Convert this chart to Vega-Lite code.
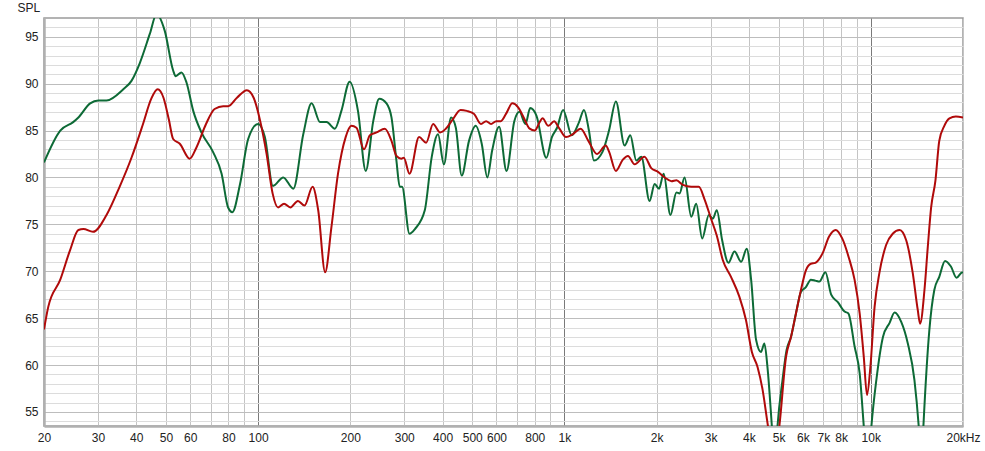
{
  "$schema": "https://vega.github.io/schema/vega-lite/v6.json",
  "width": 919,
  "height": 408,
  "autosize": "none",
  "padding": {"left": 44, "top": 18, "right": 22, "bottom": 25},
  "background": "white",
  "config": {
    "view": {"stroke": "#9a9a9a", "strokeWidth": 1.5},
    "font": "Liberation Sans"
  },
  "datasets": {
    "g": [
      [20,81.6],[22.6,85.0],[24.9,85.9],[25.9,86.4],[28.3,87.9],[30.1,88.2],[32.0,88.2],[36.3,89.4],[38.6,90.3],[41.1,92.2],[44.3,95.3],[46.6,97.4],[49.6,95.6],[52.8,91.4],[53.8,90.8],[56.2,91.2],[58.4,90.1],[61.4,87.1],[65.3,84.8],[71.3,82.7],[76.0,80.4],[79.8,76.8],[82.4,76.3],[87.3,79.3],[92.8,84.1],[100,85.7],[105.2,84.3],[111.8,79.1],[120.8,80.0],[130.3,78.8],[140.4,84.6],[149.5,87.9],[159.3,85.9],[167.3,85.9],[178,85.2],[187,87.1],[199,90.2],[211.8,87.1],[224.6,80.7],[237.6,86.0],[248.6,88.4],[262.5,87.9],[272.5,86.4],[282.8,81.8],[290,79.0],[295,79.0],[312,74.0],[325,74.5],[350,76.5],[368.8,82.2],[386.6,84.6],[404,81.4],[426.6,86.4],[442,85.3],[462,80.2],[488,83.9],[513,85.5],[537,83.6],[560,80.0],[581,82.9],[612,85.4],[647,80.7],[686,86.0],[713,87.0],[746,85.7],[773,87.4],[810,86.6],[873,82.1],[910,84.3],[946,85.3],[990,87.2],[1056,84.5],[1116,85.9],[1158,87.2],[1202,85.0],[1248,81.8],[1330,82.7],[1398,85.0],[1472,88.1],[1572,83.4],[1640,84.5],[1716,81.8],[1782,82.2],[1896,77.5],[1970,79.3],[2036,78.8],[2108,80.4],[2218,76.0],[2320,78.4],[2375,78.3],[2467,80.0],[2594,75.8],[2692,77.2],[2816,73.5],[2960,76.0],[3050,75.6],[3142,76.5],[3272,73.3],[3430,70.9],[3590,72.1],[3774,71.0],[3936,72.4],[4068,69.1],[4222,62.7],[4380,61.4],[4494,62.3],[4602,59.7],[4754,53.5],[4860,49],[4960,53.5],[5150,58.4],[5310,61.6],[5490,63.0],[5698,65.5],[5916,67.8],[6140,68.3],[6374,69.1],[6590,69.0],[6796,68.9],[7110,69.9],[7426,67.5],[7806,66.7],[8210,65.7],[8450,65.5],[8852,62.0],[9198,59.1],[9486,53.5],[9770,48],[10048,53.5],[10426,58.4],[10958,63.0],[11520,64.5],[11960,65.6],[12572,64.6],[13210,62.3],[13884,58.4],[14336,53.5],[14630,49],[14852,53.5],[15528,63.7],[16120,68.0],[16732,69.4],[17472,71.1],[18268,70.5],[19054,69.3],[19700,69.8],[20000,69.9]
    ],
    "r": [
      [20,63.8],[20.65,66.2],[22.6,69.1],[24.3,72.2],[25.9,74.4],[26.9,74.5],[28.9,74.2],[32.0,76.0],[35.3,79.0],[38.6,82.1],[42.1,85.7],[44.8,88.4],[47.0,89.4],[49.1,88.5],[51.1,86.2],[52.8,84.1],[55.5,83.6],[59.8,82.0],[62.9,83.2],[67.6,85.7],[72.1,87.3],[76.9,87.6],[79.8,87.6],[85.3,88.5],[91.9,89.3],[96.7,88.5],[101.6,86.0],[106.6,82.5],[111.5,78.3],[116.2,76.8],[121.5,77.2],[127.4,76.8],[134.9,77.5],[141.7,77.0],[150.6,79.0],[157.1,76.5],[165.5,69.9],[173.5,74.7],[182.3,80.4],[193.1,84.3],[201.6,85.5],[209.4,85.3],[221.7,83.0],[231.7,84.5],[243.6,84.8],[259.3,85.2],[272.5,83.9],[282.8,82.3],[293.5,82.0],[299,82.1],[312,80.4],[335.3,84.3],[353.5,83.7],[372.6,85.7],[392.8,84.8],[410,85.2],[432,86.2],[458,87.2],[480,87.1],[506,86.8],[534,85.7],[555,86.0],[576,85.7],[599,86.0],[620,86.0],[645,86.8],[676,87.9],[705,87.5],[736,86.4],[770,85.2],[800,85.0],[830,85.9],[848,86.3],[886,85.5],[925,86.0],[963,85.2],[1012,84.3],[1063,84.6],[1130,85.2],[1197,83.9],[1278,82.5],[1364,83.4],[1400,82.7],[1472,80.7],[1551,81.9],[1612,82.3],[1694,81.4],[1825,82.2],[1920,81.0],[2020,80.6],[2125,80.0],[2236,79.6],[2320,79.7],[2435,79.2],[2594,79.0],[2746,79.0],[2864,77.7],[3010,75.6],[3142,73.8],[3287,71.2],[3497,69.4],[3723,67.3],[3913,64.8],[4091,61.4],[4269,59.8],[4432,57.4],[4602,53.8],[4826,49.5],[5030,53.5],[5290,60.9],[5490,63.0],[5698,65.5],[5916,68.0],[6140,70.1],[6374,70.8],[6590,70.9],[6958,71.9],[7310,73.7],[7680,74.4],[8066,73.5],[8470,71.5],[8852,69.1],[9198,65.5],[9486,60.9],[9720,56.8],[9970,59.8],[10290,66.2],[10680,69.9],[11220,72.8],[11790,74.0],[12420,74.4],[13050,73.3],[13710,69.8],[14230,65.9],[14490,64.4],[14970,68.0],[15350,72.6],[15740,76.8],[16260,79.7],[16732,83.9],[17380,85.5],[18060,86.3],[18950,86.5],[20000,86.4]
    ]
  },
  "encoding": {
    "x": {"field": "0", "type": "quantitative",
      "scale": {"type": "log", "domain": [20, 20000], "nice": false},
      "axis": {
        "title": null,
        "values": [20,30,40,50,60,70,80,90,100,200,300,400,500,600,700,800,900,1000,2000,3000,4000,5000,6000,7000,8000,9000,10000,20000],
        "labelExpr": "datum.value == 20000 ? '20kHz' : (indexof([70,90,700,900,9000], datum.value) >= 0 ? '' : (datum.value >= 1000 ? (datum.value/1000) + 'k' : '' + datum.value))",
        "labelOverlap": false, "labelBound": false, "labelFlush": false,
        "labelFontSize": 12, "labelColor": "#222", "labelPadding": 6, "labelFont": "Liberation Sans",
        "ticks": false,
        "domainColor": "#b0b0b0", "domainWidth": 2.5,
        "grid": true, "gridWidth": 1,
        "gridColor": {"condition": {"test": "datum.value == 100 || datum.value == 1000 || datum.value == 10000", "value": "#7a7a7a"}, "value": "#c4c4c4"}
      }
    },
    "y": {"field": "1", "type": "quantitative",
      "scale": {"domain": [53.5, 97], "nice": false, "zero": false},
      "axis": {
        "title": "SPL", "titleAngle": 0, "titleAlign": "left", "titleBaseline": "middle",
        "titleX": -27, "titleY": -11, "titleFontWeight": "normal", "titleFontSize": 12, "titleColor": "#222", "titleFont": "Liberation Sans",
        "values": [54,55,56,57,58,59,60,61,62,63,64,65,66,67,68,69,70,71,72,73,74,75,76,77,78,79,80,81,82,83,84,85,86,87,88,89,90,91,92,93,94,95,96],
        "labelExpr": "datum.value % 5 == 0 ? '' + datum.value : ''",
        "labelOverlap": false, "labelBound": false, "labelFlush": false,
        "labelFontSize": 12, "labelColor": "#222", "labelPadding": 6, "labelFont": "Liberation Sans",
        "ticks": false,
        "domainColor": "#b0b0b0", "domainWidth": 2.5,
        "grid": true, "gridWidth": 1,
        "gridColor": {"condition": {"test": "datum.value % 5 == 0", "value": "#bdbdbd"}, "value": "#dcdcdc"}
      }
    }
  },
  "layer": [
    {
      "data": {"name": "g"},
      "mark": {"type": "line", "clip": true, "interpolate": "monotone", "color": "#0d6a36", "strokeWidth": 2}
    },
    {
      "data": {"name": "r"},
      "mark": {"type": "line", "clip": true, "interpolate": "monotone", "color": "#b00a0a", "strokeWidth": 2}
    }
  ]
}
